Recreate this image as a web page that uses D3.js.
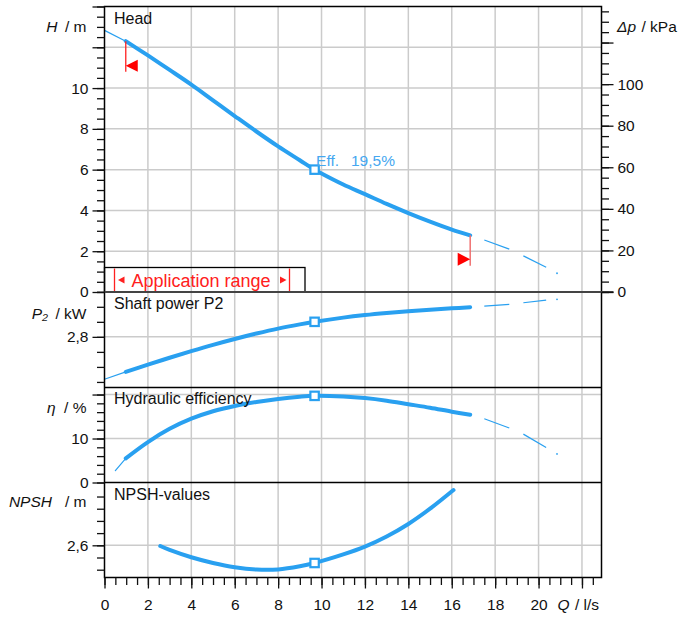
<!DOCTYPE html>
<html>
<head>
<meta charset="utf-8">
<script src="https://cdn.jsdelivr.net/npm/d3@7"></script>
<style>
    body { margin: 0; background: #fff; }
    svg { display: block; font-family: "Liberation Sans", Arial, sans-serif; }
</style>
</head>
<body>
<div id="chart"></div>
<script>
// flow Q in l/s
const bepQ = 9.68;
const appRange = [0.98, 16.85];
const extQ = [17.5, 18.65, 19.3, 20.35, 20.85];

// head H / m
const headStartQ = [0, 0.98];
const headStartH = [12.83, 12.3];
const headQ = [0.98, 2, 3, 4, 5, 6, 7, 8, 9, 9.68, 10, 11, 12, 13, 14, 15, 16, 16.85];
const headH = [12.3, 11.6, 10.89, 10.17, 9.4, 8.63, 7.87, 7.14, 6.46, 6.0, 5.81, 5.27, 4.8, 4.32, 3.87, 3.45, 3.06, 2.78];
const headExtH = [2.55, 2.1, 1.77, 1.21, 0.92];

// shaft power P2 / kW
const powerStartQ = [0, 0.98];
const powerStartP = [2.518, 2.567];
const powerQ = [0.98, 2, 3, 4, 5, 6, 7, 8, 9, 9.68, 11, 12, 13, 14, 15, 16, 16.85];
const powerP = [2.567, 2.615, 2.661, 2.705, 2.747, 2.786, 2.822, 2.855, 2.883, 2.9, 2.928, 2.945, 2.959, 2.971, 2.981, 2.99, 2.997];
const powerExtP = [3.005, 3.016, 3.027, 3.045, 3.05];

// hydraulic efficiency / %
const effStartQ = [0.5, 0.98];
const effStartE = [2.7, 5.5];
const effQ = [0.98, 2, 3, 4, 5, 6, 7, 8, 9, 9.68, 11, 12, 13, 14, 15, 16, 16.85];
const effE = [5.5, 9.2, 12.2, 14.5, 16.2, 17.4, 18.3, 19.0, 19.5, 19.7, 19.55, 19.2, 18.6, 17.8, 17.0, 16.1, 15.4];
const effExtE = [14.5, 12.4, 11.0, 7.95, 6.5];

// NPSH / m
const npshQ = [2.57, 3, 4, 5, 6, 7, 8, 9, 9.68, 11, 12, 13, 14, 15, 16.08];
const npshV = [2.594, 2.562, 2.502, 2.455, 2.42, 2.401, 2.402, 2.428, 2.455, 2.525, 2.589, 2.672, 2.775, 2.9, 3.053];

// tick labels
const qLabels = [0, 2, 4, 6, 8, 10, 12, 14, 16, 18, 20];
const headLabels = [0, 2, 4, 6, 8, 10];
const dpLabels = [0, 20, 40, 60, 80, 100];
const powerLabels = [2.8];
const effLabels = [0, 10];
const npshLabels = [2.6];

const blue = "#29a0f0";
const plot = {left: 104.5, right: 601.5, top: 6.5, bottom: 577.5};

const svg = d3.select("#chart").append("svg")
    .attr("width", 685)
    .attr("height", 617);

const x = d3.scaleLinear().domain([0, 22.9]).range([plot.left, plot.right]);
const yHead = d3.scaleLinear().domain([0, 14]).range([292, plot.top]);
const yDp = d3.scaleLinear().domain([0, 14 * 9.81]).range([292, plot.top]);
const yPower = d3.scaleLinear().domain([2.463, 3.0985]).range([387.5, 292]);
const yEff = d3.scaleLinear().domain([0, 21.6]).range([482.5, 387.5]);
const yNpsh = d3.scaleLinear().domain([2.336, 3.115]).range([plot.bottom, 482.5]);

const comma = d => String(d).replace(".", ",");

// grid
const grid = svg.append("g").attr("stroke", "#cbcbcb").attr("stroke-width", 1.5);
grid.selectAll("v-line")
    .data(d3.range(2, 23, 2))
    .enter()
    .append("line")
    .attr("x1", d => x(d)).attr("x2", d => x(d))
    .attr("y1", plot.top).attr("y2", plot.bottom);

function hGrid(values, y) {
    grid.append("g").selectAll("h-line")
        .data(values)
        .enter()
        .append("line")
        .attr("x1", plot.left).attr("x2", plot.right)
        .attr("y1", d => y(d)).attr("y2", d => y(d));
}
hGrid([2, 4, 6, 8, 10, 12], yHead);
hGrid([2.8], yPower);
hGrid([10, 20], yEff);
hGrid([2.6], yNpsh);

// application range box
svg.append("rect")
    .attr("x", plot.left).attr("y", 267.5)
    .attr("width", 305 - plot.left).attr("height", 292 - 267.5)
    .attr("fill", "none").attr("stroke", "#000").attr("stroke-width", 1.3);
svg.append("g").attr("stroke", "#ff2020").attr("stroke-width", 1.3)
    .selectAll("line").data([114.5, 289.5]).enter().append("line")
    .attr("x1", d => d).attr("x2", d => d).attr("y1", 268.5).attr("y2", 291);
svg.append("path").attr("fill", "#ff2020").attr("d", "M118,280 L124.5,276.5 L124.5,283.5 Z");
svg.append("path").attr("fill", "#ff2020").attr("d", "M286.5,280 L280,276.5 L280,283.5 Z");
svg.append("text")
    .attr("x", 131.5).attr("y", 287.3)
    .attr("fill", "#ff2020").attr("font-size", 18)
    .text("Application range");

// curves
const pts = (qs, vs) => qs.map((q, i) => [q, vs[i]]);

function drawCurve(qs, vs, y, width) {
    svg.append("path")
        .datum(pts(qs, vs))
        .attr("fill", "none")
        .attr("stroke", blue)
        .attr("stroke-width", width)
        .attr("stroke-linecap", "round")
        .attr("d", d3.line().x(d => x(d[0])).y(d => y(d[1])).curve(d3.curveCatmullRom.alpha(0.5)));
}

function drawExtension(vs, y) {
    const p = pts(extQ, vs);
    const g = svg.append("g").attr("stroke", blue).attr("stroke-width", 1.2);
    [[p[0], p[1]], [p[2], p[3]]].forEach(function (seg) {
        g.append("line")
            .attr("x1", x(seg[0][0])).attr("y1", y(seg[0][1]))
            .attr("x2", x(seg[1][0])).attr("y2", y(seg[1][1]));
    });
    svg.append("circle")
        .attr("cx", x(p[4][0])).attr("cy", y(p[4][1]))
        .attr("r", 0.9).attr("fill", blue);
}

function drawMarker(q, v, y) {
    svg.append("rect")
        .attr("x", x(q) - 4.2).attr("y", y(v) - 4.2)
        .attr("width", 8.4).attr("height", 8.4)
        .attr("fill", "#fff").attr("stroke", blue).attr("stroke-width", 2.2);
}

drawCurve(headStartQ, headStartH, yHead, 1.2);
drawCurve(headQ, headH, yHead, 4);
drawExtension(headExtH, yHead);

drawCurve(powerStartQ, powerStartP, yPower, 1.2);
drawCurve(powerQ, powerP, yPower, 4);
drawExtension(powerExtP, yPower);

drawCurve(effStartQ, effStartE, yEff, 1.2);
drawCurve(effQ, effE, yEff, 4);
drawExtension(effExtE, yEff);

drawCurve(npshQ, npshV, yNpsh, 4);

// application range markers on the head curve
const hAt = q => yHead(headH[headQ.indexOf(q)]);
const xl = x(appRange[0]), yl = hAt(appRange[0]);
svg.append("line").attr("x1", xl).attr("x2", xl).attr("y1", yl).attr("y2", yl + 30.5)
    .attr("stroke", "#ff2020").attr("stroke-width", 1.3);
svg.append("path").attr("fill", "#ff0000")
    .attr("d", "M" + xl + "," + (yl + 24.5) + " L" + (xl + 12) + "," + (yl + 18.5) + " L" + (xl + 12) + "," + (yl + 30.5) + " Z");
const xr = x(appRange[1]), yr = hAt(appRange[1]);
svg.append("line").attr("x1", xr).attr("x2", xr).attr("y1", yr).attr("y2", yr + 30.5)
    .attr("stroke", "#f07070").attr("stroke-width", 1.5);
svg.append("path").attr("fill", "#ff0000")
    .attr("d", "M" + xr + "," + (yr + 24) + " L" + (xr - 12.5) + "," + (yr + 17.5) + " L" + (xr - 12.5) + "," + (yr + 30.5) + " Z");

drawMarker(bepQ, headH[headQ.indexOf(bepQ)], yHead);
drawMarker(bepQ, powerP[powerQ.indexOf(bepQ)], yPower);
drawMarker(bepQ, effE[effQ.indexOf(bepQ)], yEff);
drawMarker(bepQ, npshV[npshQ.indexOf(bepQ)], yNpsh);

svg.append("text")
    .attr("x", x(bepQ) + 1.5).attr("y", 166)
    .attr("fill", "#45a7f0").attr("font-size", 15.5)
    .text("Eff.")
    .append("tspan").attr("x", 351).text("19,5%");

// frame
svg.append("rect")
    .attr("x", plot.left).attr("y", plot.top)
    .attr("width", plot.right - plot.left).attr("height", plot.bottom - plot.top)
    .attr("fill", "none").attr("stroke", "#000").attr("stroke-width", 1.5);
svg.append("g").attr("stroke", "#000").attr("stroke-width", 1.4)
    .selectAll("line").data([387.5, 482.5]).enter().append("line")
    .attr("x1", plot.left).attr("x2", plot.right)
    .attr("y1", d => d).attr("y2", d => d);
svg.append("line")
    .attr("x1", plot.left).attr("x2", 613.5).attr("y1", 292).attr("y2", 292)
    .attr("stroke", "#444").attr("stroke-width", 2.2);

// axes
function axis(gen, translate, size, values, fmt, pad) {
    const g = svg.append("g")
        .attr("transform", translate)
        .call(gen.tickValues(values).tickSize(size).tickSizeOuter(0).tickPadding(pad || 0).tickFormat(fmt || ""));
    g.select(".domain").remove();
    g.attr("font-size", 15.5).attr("font-family", null).attr("color", "#111");
    g.selectAll("line").attr("stroke-width", 1.3);
    return g;
}

const atLeft = "translate(" + plot.left + ",0)";
axis(d3.axisLeft(yHead), atLeft, 7.5, d3.range(0, 14.01, 0.5));
axis(d3.axisLeft(yHead), atLeft, 12, d3.range(0, 15, 2), d => headLabels.includes(d) ? d : "", 4);
axis(d3.axisLeft(yPower), atLeft, 7.5, d3.range(2.5, 3.11, 0.1));
axis(d3.axisLeft(yPower), atLeft, 12, powerLabels, comma, 4);
axis(d3.axisLeft(yEff), atLeft, 7.5, d3.range(0, 21, 2));
axis(d3.axisLeft(yEff), atLeft, 12, [0, 10, 20], d => effLabels.includes(d) ? d : "", 4);
axis(d3.axisLeft(yNpsh), atLeft, 7.5, d3.range(2.4, 3.01, 0.1));
axis(d3.axisLeft(yNpsh), atLeft, 12, npshLabels, comma, 4);

const atRight = "translate(" + plot.right + ",0)";
axis(d3.axisRight(yDp), atRight, 7.5, d3.range(0, 136, 5));
axis(d3.axisRight(yDp), atRight, 12, d3.range(0, 121, 20), d => dpLabels.includes(d) ? d : "", 4);

const atBottom = "translate(0," + plot.bottom + ")";
axis(d3.axisBottom(x), atBottom, 7.5, d3.range(0, 22.51, 0.5));
axis(d3.axisBottom(x), atBottom, 11, d3.range(0, 23, 2), d => qLabels.includes(d) ? d : "", 10);

// panel titles
const titles = [["Head", 23.5], ["Shaft power P2", 309], ["Hydraulic efficiency", 404], ["NPSH-values", 500]];
svg.append("g").selectAll("text")
    .data(titles)
    .enter()
    .append("text")
    .attr("x", 114).attr("y", d => d[1])
    .attr("font-size", 16).attr("fill", "#111")
    .text(d => d[0]);

// axis titles
function axisTitle(sym, symX, unit, unitX, y, anchor) {
    svg.append("text").attr("x", symX).attr("y", y).attr("text-anchor", anchor)
        .attr("font-size", 15.5).attr("font-style", "italic").attr("fill", "#111").text(sym);
    svg.append("text").attr("x", unitX).attr("y", y).attr("text-anchor", anchor)
        .attr("font-size", 15.5).attr("fill", "#111").text(unit);
}
axisTitle("H", 57.5, "/ m", 86.5, 31.5, "end");
axisTitle("P\u2082", 48, "/ kW", 86.5, 318.5, "end");
axisTitle("\u03b7", 55.5, "/ %", 86.5, 413, "end");
axisTitle("NPSH", 52, "/ m", 86.5, 507, "end");
axisTitle("\u0394p", 617, "/ kPa", 641.5, 31.5, "start");
axisTitle("Q", 557.5, "/ l/s", 575, 610, "start");
</script>
</body>
</html>
